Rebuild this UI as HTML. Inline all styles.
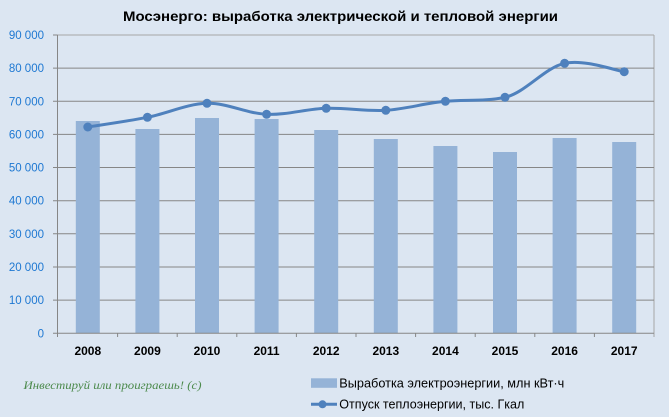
<!DOCTYPE html>
<html>
<head>
<meta charset="utf-8">
<style>
  html, body { margin: 0; padding: 0; background: #DCE6F2; }
  svg { display: block; }
</style>
</head>
<body>
<svg width="669" height="417" viewBox="0 0 669 417" xmlns="http://www.w3.org/2000/svg" font-family="'Liberation Sans', 'DejaVu Sans', sans-serif">
  <rect x="0" y="0" width="669" height="417" fill="#DCE6F2"/>

  <!-- Title -->
  <text x="340.5" y="21" text-anchor="middle" font-size="14" font-weight="bold" fill="#000" textLength="435" lengthAdjust="spacingAndGlyphs">Мосэнерго: выработка  электрической  и тепловой энергии</text>

  <!-- frame top/right -->
  <line x1="57.5" y1="35" x2="654" y2="35" stroke="#A6A6A6" stroke-width="1"/>
  <line x1="654" y1="35" x2="654" y2="337" stroke="#A6A6A6" stroke-width="1"/>

  <!-- gridlines -->
  <g stroke="#868686" stroke-width="1">
    <line x1="53" y1="68.1" x2="654" y2="68.1"/>
    <line x1="53" y1="101.3" x2="654" y2="101.3"/>
    <line x1="53" y1="134.4" x2="654" y2="134.4"/>
    <line x1="53" y1="167.5" x2="654" y2="167.5"/>
    <line x1="53" y1="200.7" x2="654" y2="200.7"/>
    <line x1="53" y1="233.8" x2="654" y2="233.8"/>
    <line x1="53" y1="267.0" x2="654" y2="267.0"/>
    <line x1="53" y1="300.1" x2="654" y2="300.1"/>
    <line x1="53" y1="35" x2="57.5" y2="35"/>
  </g>

  <!-- bars -->
  <g fill="#95B3D7">
    <rect x="75.8" y="121" width="24" height="212.3"/>
    <rect x="135.4" y="129" width="24" height="204.3"/>
    <rect x="195.0" y="118" width="24" height="215.3"/>
    <rect x="254.6" y="119" width="24" height="214.3"/>
    <rect x="314.2" y="130" width="24" height="203.3"/>
    <rect x="373.8" y="139" width="24" height="194.3"/>
    <rect x="433.4" y="146" width="24" height="187.3"/>
    <rect x="493.0" y="152" width="24" height="181.3"/>
    <rect x="552.6" y="138" width="24" height="195.3"/>
    <rect x="612.2" y="142" width="24" height="191.3"/>
  </g>

  <!-- axes -->
  <line x1="57.5" y1="35" x2="57.5" y2="337" stroke="#868686" stroke-width="1"/>
  <line x1="53" y1="333.3" x2="654" y2="333.3" stroke="#868686" stroke-width="1"/>
  <g stroke="#868686" stroke-width="1">
    <line x1="117.6" y1="333" x2="117.6" y2="337"/>
    <line x1="177.2" y1="333" x2="177.2" y2="337"/>
    <line x1="236.8" y1="333" x2="236.8" y2="337"/>
    <line x1="296.4" y1="333" x2="296.4" y2="337"/>
    <line x1="356.0" y1="333" x2="356.0" y2="337"/>
    <line x1="415.6" y1="333" x2="415.6" y2="337"/>
    <line x1="475.2" y1="333" x2="475.2" y2="337"/>
    <line x1="534.8" y1="333" x2="534.8" y2="337"/>
    <line x1="594.4" y1="333" x2="594.4" y2="337"/>
  </g>

  <!-- line series -->
  <path d="M87.8,127 C97.73,125.38 127.53,121.25 147.4,117.3 C167.27,113.35 187.13,103.8 207,103.3 C226.87,102.8 246.73,113.47 266.6,114.3 C286.47,115.13 306.33,108.97 326.2,108.3 C346.07,107.63 365.93,111.47 385.8,110.3 C405.67,109.13 425.53,103.0 445.4,101.3 C465.27,99.6 485.13,101.5 505,97.3 C524.87,93.1 544.73,67.57 564.6,63.3 C584.47,59.03 614.27,70.3 624.2,71.7" fill="none" stroke="#4F81BD" stroke-width="3" stroke-linecap="round"/>
  <g fill="#4F81BD">
    <circle cx="87.8" cy="127" r="4.5"/>
    <circle cx="147.4" cy="117.3" r="4.5"/>
    <circle cx="207.0" cy="103.3" r="4.5"/>
    <circle cx="266.6" cy="114.3" r="4.5"/>
    <circle cx="326.2" cy="108.3" r="4.5"/>
    <circle cx="385.8" cy="110.3" r="4.5"/>
    <circle cx="445.4" cy="101.3" r="4.5"/>
    <circle cx="505.0" cy="97.3" r="4.5"/>
    <circle cx="564.6" cy="63.3" r="4.5"/>
    <circle cx="624.2" cy="71.7" r="4.5"/>
  </g>

  <!-- y labels -->
  <g font-size="11.5" fill="#1E78D2" text-anchor="end">
    <text x="44" y="39">90 000</text>
    <text x="44" y="72.1">80 000</text>
    <text x="44" y="105.3">70 000</text>
    <text x="44" y="138.4">60 000</text>
    <text x="44" y="171.5">50 000</text>
    <text x="44" y="204.7">40 000</text>
    <text x="44" y="237.8">30 000</text>
    <text x="44" y="271.0">20 000</text>
    <text x="44" y="304.1">10 000</text>
    <text x="44" y="337.3">0</text>
  </g>

  <!-- x labels -->
  <g font-size="12" font-weight="bold" fill="#000" text-anchor="middle">
    <text x="87.8" y="355">2008</text>
    <text x="147.4" y="355">2009</text>
    <text x="207.0" y="355">2010</text>
    <text x="266.6" y="355">2011</text>
    <text x="326.2" y="355">2012</text>
    <text x="385.8" y="355">2013</text>
    <text x="445.4" y="355">2014</text>
    <text x="505.0" y="355">2015</text>
    <text x="564.6" y="355">2016</text>
    <text x="624.2" y="355">2017</text>
  </g>

  <!-- watermark -->
  <text x="23.5" y="389" font-size="12" font-style="italic" font-family="'Liberation Serif', serif" fill="#4C8A4C" textLength="178" lengthAdjust="spacingAndGlyphs">Инвестируй или проиграешь! (с)</text>

  <!-- legend -->
  <rect x="311" y="378.3" width="26" height="9.5" fill="#95B3D7"/>
  <text x="339.3" y="387.3" font-size="12.5" fill="#000" textLength="225" lengthAdjust="spacingAndGlyphs">Выработка электроэнергии, млн кВт·ч</text>
  <line x1="311" y1="404.3" x2="337" y2="404.3" stroke="#4F81BD" stroke-width="3"/>
  <circle cx="322.5" cy="404.3" r="4" fill="#4F81BD"/>
  <text x="339.3" y="408.3" font-size="12.5" fill="#000" textLength="185" lengthAdjust="spacingAndGlyphs">Отпуск теплоэнергии, тыс. Гкал</text>
</svg>
</body>
</html>
